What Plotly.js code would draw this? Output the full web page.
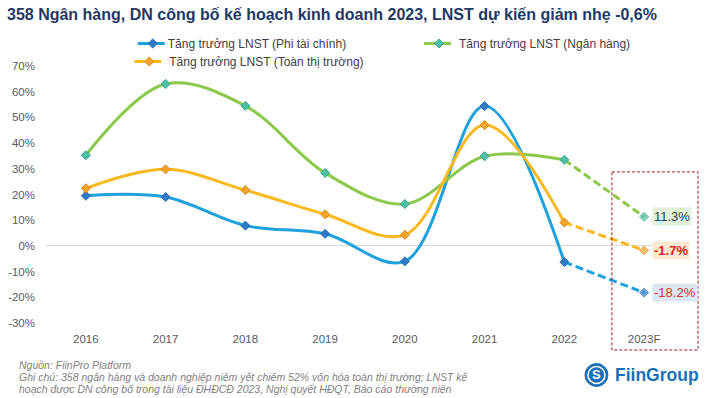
<!DOCTYPE html>
<html>
<head>
<meta charset="utf-8">
<script src="https://cdn.plot.ly/plotly-3.0.1.min.js"></script>
<style>html,body{margin:0;padding:0;background:#fff;}#chart{width:707px;height:398px;}</style>
</head>
<body>
<div id="chart"></div>
<script>
// ---- data (percent) ----
const years = ['2016','2017','2018','2019','2020','2021','2022','2023F'];
const phiTaiChinh = [19.5, 19.0, 7.9, 4.7, -6.0, 54.4, -6.3, -18.2];
const nganHang = [35.3, 63.0, 54.5, 28.4, 16.3, 34.9, 33.5, 11.3];
const toanThiTruong = [22.4, 29.8, 21.7, 12.3, 4.3, 47.0, 9.1, -1.7];
const seriesNames = ['Tăng trưởng LNST (Phi tài chính)', 'Tăng trưởng LNST (Ngân hàng)', 'Tăng trưởng LNST (Toàn thị trường)'];
const forecastLabels = ['-18.2%', '11.3%', '-1.7%'];
const yTicks = [-30, -20, -10, 0, 10, 20, 30, 40, 50, 60, 70];
const footerLines = [
  'Nguồn: FiinPro Platform',
  'Ghi chú: 358 ngân hàng và doanh nghiệp niêm yết chiếm 52% vốn hóa toàn thị trường; LNST kế',
  'hoạch được DN công bố trong tài liệu ĐHĐCĐ 2023, Nghị quyết HĐQT, Báo cáo thường niên'
];

const FONT = 'Liberation Sans, Arial, sans-serif';
const styles = [
  {line: '#1ea1dc', marker: '#2e7ac4', mline: '#2a6fb5', bg: '#dde7f3', txt: '#e0332f', bold: false},
  {line: '#8cc84b', marker: '#4dbfa6', mline: '#3aa58e', bg: '#e2efda', txt: '#404040', bold: false},
  {line: '#f9b81c', marker: '#f4a32b', mline: '#d98a1c', bg: '#fce9d2', txt: '#e0201c', bold: true}
];
const data = [phiTaiChinh, nganHang, toanThiTruong];
const legendIds = ['legend', 'legend2', 'legend3'];

const traces = [];
// dashed forecast segments (2022 -> 2023F)
data.forEach((vals, i) => {
  traces.push({
    x: years.slice(6), y: vals.slice(6), type: 'scatter', mode: 'lines+markers',
    line: {color: styles[i].line, width: 3, dash: '8px,4px'},
    marker: {symbol: 'diamond', size: [0, 7], color: styles[i].marker, line: {color: styles[i].mline, width: 1}},
    showlegend: false, hoverinfo: 'skip', cliponaxis: false
  });
});
data.forEach((vals, i) => {
  traces.push({
    x: years.slice(0, 7), y: vals.slice(0, 7), type: 'scatter', mode: 'lines+markers',
    name: seriesNames[i], legend: legendIds[i],
    line: {color: styles[i].line, width: 3, shape: 'spline', smoothing: 1},
    marker: {symbol: 'diamond', size: 7, color: styles[i].marker, line: {color: styles[i].mline, width: 1}},
    cliponaxis: false
  });
});

const annotations = data.map((vals, i) => ({
  x: years[7], y: vals[7], xref: 'x', yref: 'y', xanchor: 'left', yanchor: 'middle',
  xshift: 8, showarrow: false,
  text: styles[i].bold ? '<b>' + forecastLabels[i] + '</b>' : forecastLabels[i],
  font: {family: FONT, size: 13, color: styles[i].txt},
  bgcolor: styles[i].bg, borderpad: 1
}));
const footerY = [-0.1634, -0.2101, -0.2549];
footerLines.forEach((t, i) => annotations.push({
  xref: 'paper', yref: 'paper', x: -0.0455, y: footerY[i], xanchor: 'left', yanchor: 'middle', align: 'left',
  showarrow: false, text: '<i>' + t + '</i>',
  font: {family: FONT, size: 10.5, color: '#7f7f7f'}
}));
annotations.push({
  xref: 'paper', yref: 'paper', x: 0.8886, y: -0.2023, xanchor: 'left', yanchor: 'middle',
  showarrow: false, text: '<b>FiinGroup</b>',
  font: {family: FONT, size: 17.5, color: '#1b6fb6'}
});
annotations.push({
  xref: 'paper', yref: 'paper', x: 0.8628, y: -0.2023, xanchor: 'center', yanchor: 'middle',
  showarrow: false, text: '<b>S</b>',
  font: {family: FONT, size: 13, color: '#ffffff'}
});

const legendBase = {
  orientation: 'h', xanchor: 'left', yanchor: 'top',
  font: {family: FONT, size: 12, color: '#404040'}, bgcolor: 'rgba(0,0,0,0)'
};

const layout = {
  width: 707, height: 398,
  margin: {l: 46, r: 23, t: 66, b: 75},
  paper_bgcolor: '#ffffff', plot_bgcolor: '#ffffff',
  title: {
    text: '<b>358 Ngân hàng, DN công bố kế hoạch kinh doanh 2023, LNST dự kiến giảm nhẹ -0,6%</b>',
    x: 7/707, xref: 'container', xanchor: 'left', y: 1 - 14/398, yref: 'container', yanchor: 'middle',
    font: {family: FONT, size: 16, color: '#1f3864'}
  },
  xaxis: {
    type: 'category', categoryarray: years, range: [-0.5, 7.5],
    showgrid: false, showline: false, zeroline: false, ticks: '', ticklabelstandoff: 7,
    tickfont: {family: FONT, size: 11.5, color: '#595959'}, fixedrange: true
  },
  yaxis: {
    range: [-30, 70], tickvals: yTicks, ticktext: yTicks.map(v => v + '%'),
    showgrid: false, zeroline: true, zerolinecolor: '#d9d9d9', zerolinewidth: 1,
    showline: false, ticks: '', ticklabelstandoff: 10,
    tickfont: {family: FONT, size: 11.5, color: '#595959'}, fixedrange: true
  },
  legend: Object.assign({}, legendBase, {x: 0.1359, y: 1.144}),
  legend2: Object.assign({}, legendBase, {x: 0.5846, y: 1.144}),
  legend3: Object.assign({}, legendBase, {x: 0.1305, y: 1.074}),
  annotations: annotations,
  shapes: [
    {type: 'rect', xref: 'x domain', yref: 'paper', x0: 0.887, x1: 1.022, y0: 0.588, y1: -0.105,
     line: {color: '#9b1c1c', width: 1, dash: '3px,2px'}, fillcolor: 'rgba(0,0,0,0)'},
    {type: 'circle', xref: 'paper', yref: 'paper', xsizemode: 'pixel', ysizemode: 'pixel',
     xanchor: 0.8628, yanchor: -0.2023, x0: -11.5, x1: 11.5, y0: -11.5, y1: 11.5,
     fillcolor: '#1b6fb6', line: {color: '#1b6fb6', width: 1}},
    {type: 'circle', xref: 'paper', yref: 'paper', xsizemode: 'pixel', ysizemode: 'pixel',
     xanchor: 0.8628, yanchor: -0.2023, x0: -8.5, x1: 8.5, y0: -8.5, y1: 8.5,
     fillcolor: 'rgba(0,0,0,0)', line: {color: '#ffffff', width: 1.5}}
  ],
  showlegend: true
};

function tweakLegends(gd) {
  // shorter legend line sample and tighter gap, as in the reference
  gd.querySelectorAll('.legendlines path').forEach(p => {
    p.setAttribute('transform', 'translate(5,0) scale(0.9,1) translate(-5,0)');
  });
  gd.querySelectorAll('.legendtext').forEach(t => {
    t.setAttribute('transform', 'translate(-5,0)');
  });
}

const gdEl = document.getElementById('chart');
Plotly.newPlot(gdEl, traces, layout, {displayModeBar: false, staticPlot: true}).then(gd => {
  tweakLegends(gd);
});
</script>
</body>
</html>
